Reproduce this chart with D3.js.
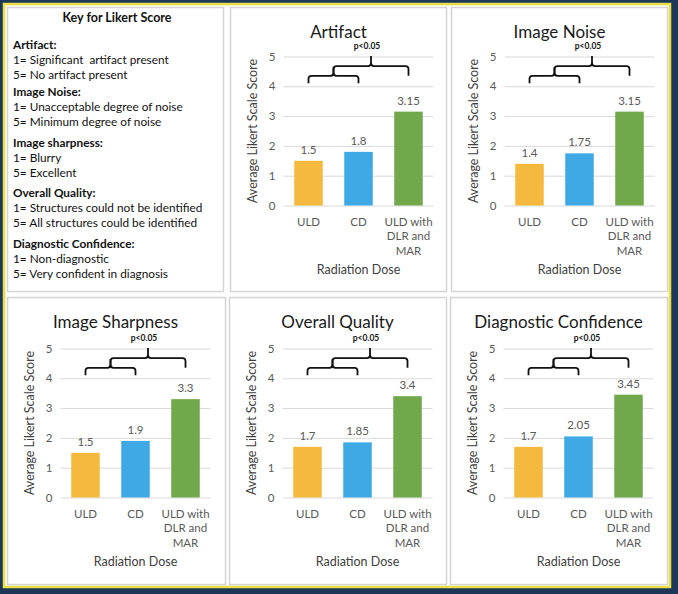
<!DOCTYPE html>
<html>
<head>
<meta charset="utf-8">
<script src="https://cdn.jsdelivr.net/npm/d3@7"></script>
<style>
  html, body { margin: 0; padding: 0; background: #1c3658; }
  svg { display: block; font-family: Lato, 'Open Sans', sans-serif; }
  text { white-space: pre; }
</style>
</head>
<body>
<div id="chart"></div>
<script>
// data
const categories = ['ULD', 'CD', 'ULD with\nDLR and\nMAR'];
const barColors = ['#f5b93d', '#3fa9e6', '#70a84b'];
const titles = ['Artifact', 'Image Noise', 'Image Sharpness', 'Overall Quality', 'Diagnostic Confidence'];
const artifact = [1.5, 1.8, 3.15];
const imageNoise = [1.4, 1.75, 3.15];
const imageSharpness = [1.5, 1.9, 3.3];
const overallQuality = [1.7, 1.85, 3.4];
const diagConfidence = [1.7, 2.05, 3.45];
const yTicks = [0, 1, 2, 3, 4, 5];
const pLabel = 'p<0.05';
// bracket levels in score units
const smallBracket = { legBottom: 4.1, bar: 4.35, tip: 4.65 };
const bigBracket = { bar: 4.68, legBottom: 4.35, tip: 5.02 };

const keyTitle = 'Key for Likert Score';
const keyHeads = ['Artifact:', 'Image Noise:', 'Image sharpness:', 'Overall Quality:', 'Diagnostic Confidence:'];
const keyLow = ['1= Significant  artifact present', '1= Unacceptable degree of noise', '1= Blurry',
  '1= Structures could not be identified', '1= Non-diagnostic'];
const keyHigh = ['5= No artifact present', '5= Minimum degree of noise', '5= Excellent',
  '5= All structures could be identified', '5= Very confident in diagnosis'];

const W = 678, H = 594;
const svg = d3.select('#chart').append('svg').attr('width', W).attr('height', H);

// frame
svg.append('rect').attr('x', 0).attr('y', 0).attr('width', W).attr('height', H).attr('fill', '#1c3658');
svg.append('rect').attr('x', 4).attr('y', 4).attr('width', 666).attr('height', 583)
  .attr('fill', '#fff').attr('stroke', '#eadf45').attr('stroke-width', 2.5);
svg.append('rect').attr('x', 5.5).attr('y', 5.5).attr('width', 663).attr('height', 580)
  .attr('fill', 'none').attr('stroke', '#f6f2c0').attr('stroke-width', 1);

const panels = [
  { x: 7.5, y: 7.5, w: 216, h: 284 },
  { x: 230.5, y: 7.5, w: 216, h: 284 },
  { x: 451.5, y: 7.5, w: 216, h: 284 },
  { x: 7.5, y: 297.5, w: 218, h: 287 },
  { x: 229.5, y: 297.5, w: 217, h: 287 },
  { x: 450.5, y: 297.5, w: 217, h: 287 }
];
panels.forEach(p => {
  svg.append('rect').attr('x', p.x).attr('y', p.y).attr('width', p.w).attr('height', p.h)
    .attr('fill', '#fff').attr('stroke', '#d4d4d4').attr('stroke-width', 1.5);
});

// key panel
const key = svg.append('g').attr('transform', 'translate(13,0)');
key.append('text').text(keyTitle).attr('x', 104).attr('y', 22).attr('text-anchor', 'middle')
  .attr('font-weight', 'bold').attr('font-size', 12.5).attr('fill', '#111');
const headY = [49, 96, 147, 197, 248];
keyHeads.forEach((h, i) => {
  const y0 = headY[i];
  key.append('text').text(h).attr('x', 0).attr('y', y0).attr('font-weight', 'bold')
    .attr('font-size', 11.8).attr('fill', '#111');
  key.append('text').text(keyLow[i]).attr('x', 0).attr('y', y0 + 15).attr('font-size', 11.8).attr('fill', '#111');
  key.append('text').text(keyHigh[i]).attr('x', 0).attr('y', y0 + 30).attr('font-size', 11.8).attr('fill', '#111');
});

const series = [artifact, imageNoise, imageSharpness, overallQuality, diagConfidence];
const chartPanels = panels.slice(1);

const drawChart = (p, title, values) => {
  const x0 = p.x + 53, x1 = x0 + 150;
  const yTop = p.y + (p.y < 100 ? 49 : 51), yBot = yTop + 149;
  const g = svg.append('g');
  const xScale = d3.scaleBand().domain(categories).range([x0, x1]).paddingInner(0.43).paddingOuter(0.215);
  const yScale = d3.scaleLinear().domain([0, 5]).range([yBot, yTop]);

  // gridlines + y tick labels
  const yAxis = g.append('g').attr('transform', `translate(${x0},0)`)
    .call(d3.axisLeft(yScale).tickValues(yTicks).tickFormat(d3.format('d')).tickSize(-150).tickPadding(8));
  yAxis.select('.domain').remove();
  yAxis.selectAll('line').attr('stroke', '#d9d9d9').attr('stroke-width', 1);
  yAxis.selectAll('text').attr('fill', '#595959').attr('font-size', 11.5).attr('font-family', 'Lato, sans-serif');

  // bars
  g.selectAll('.bar').data(values).enter().append('rect')
    .attr('x', (d, i) => xScale(categories[i]))
    .attr('y', d => yScale(d))
    .attr('width', xScale.bandwidth())
    .attr('height', d => yBot - yScale(d))
    .attr('fill', (d, i) => barColors[i]);

  // value labels
  g.selectAll('.val').data(values).enter().append('text')
    .text(d => d)
    .attr('x', (d, i) => xScale(categories[i]) + xScale.bandwidth() / 2)
    .attr('y', d => yScale(d) - 7)
    .attr('text-anchor', 'middle').attr('font-size', 11.5).attr('fill', '#595959');

  // category labels
  categories.forEach(c => {
    const t = g.append('text').attr('text-anchor', 'middle').attr('font-size', 11.5).attr('fill', '#595959');
    c.split('\n').forEach((line, j) => {
      t.append('tspan').text(line).attr('x', xScale(c) + xScale.bandwidth() / 2).attr('y', yBot + 20 + j * 14.5);
    });
  });

  // titles
  g.append('text').text(title).attr('x', (x0 + x1) / 2 - 20).attr('y', p.y + 30)
    .attr('text-anchor', 'middle').attr('font-size', 17).attr('fill', '#1a1a1a');
  g.append('text').text('Radiation Dose').attr('x', (x0 + x1) / 2).attr('y', yBot + 68.5)
    .attr('text-anchor', 'middle').attr('font-size', 12.5).attr('fill', '#404040');
  g.append('text').text('Average Likert Scale Score')
    .attr('transform', `translate(${x0 - 27},${(yTop + yBot) / 2}) rotate(-90)`)
    .attr('text-anchor', 'middle').attr('font-size', 12.5).attr('fill', '#404040');

  // significance brackets
  const cx = i => xScale(categories[i]) + xScale.bandwidth() / 2;
  const r = 3;
  const bracePath = (xa, xb, yLeg, yBar, yTip) => {
    const xm = (xa + xb) / 2;
    const ya = yScale(yLeg), yb = yScale(yBar), yt = yScale(yTip);
    return `M${xa},${ya} L${xa},${yb + r} Q${xa},${yb} ${xa + r},${yb} L${xm - r},${yb} Q${xm},${yb} ${xm},${yb - r} L${xm},${yt}` +
      ` M${xm},${yb - r} Q${xm},${yb} ${xm + r},${yb} L${xb - r},${yb} Q${xb},${yb} ${xb},${yb + r} L${xb},${ya}`;
  };
  const sA = cx(0), sB = cx(1), bB = cx(2);
  g.append('path').attr('d', bracePath(sA, sB, smallBracket.legBottom, smallBracket.bar, smallBracket.tip))
    .attr('fill', 'none').attr('stroke', '#111').attr('stroke-width', 1.8);
  g.append('path').attr('d', bracePath((sA + sB) / 2, bB, bigBracket.legBottom, bigBracket.bar, bigBracket.tip))
    .attr('fill', 'none').attr('stroke', '#111').attr('stroke-width', 1.8);
  g.append('text').text(pLabel).attr('x', ((sA + sB) / 2 + bB) / 2 - 4).attr('y', yScale(5.24))
    .attr('text-anchor', 'middle').attr('font-size', 8.5).attr('font-weight', 'bold').attr('fill', '#111');
};

chartPanels.forEach((p, i) => drawChart(p, titles[i], series[i]));
</script>
</body>
</html>
